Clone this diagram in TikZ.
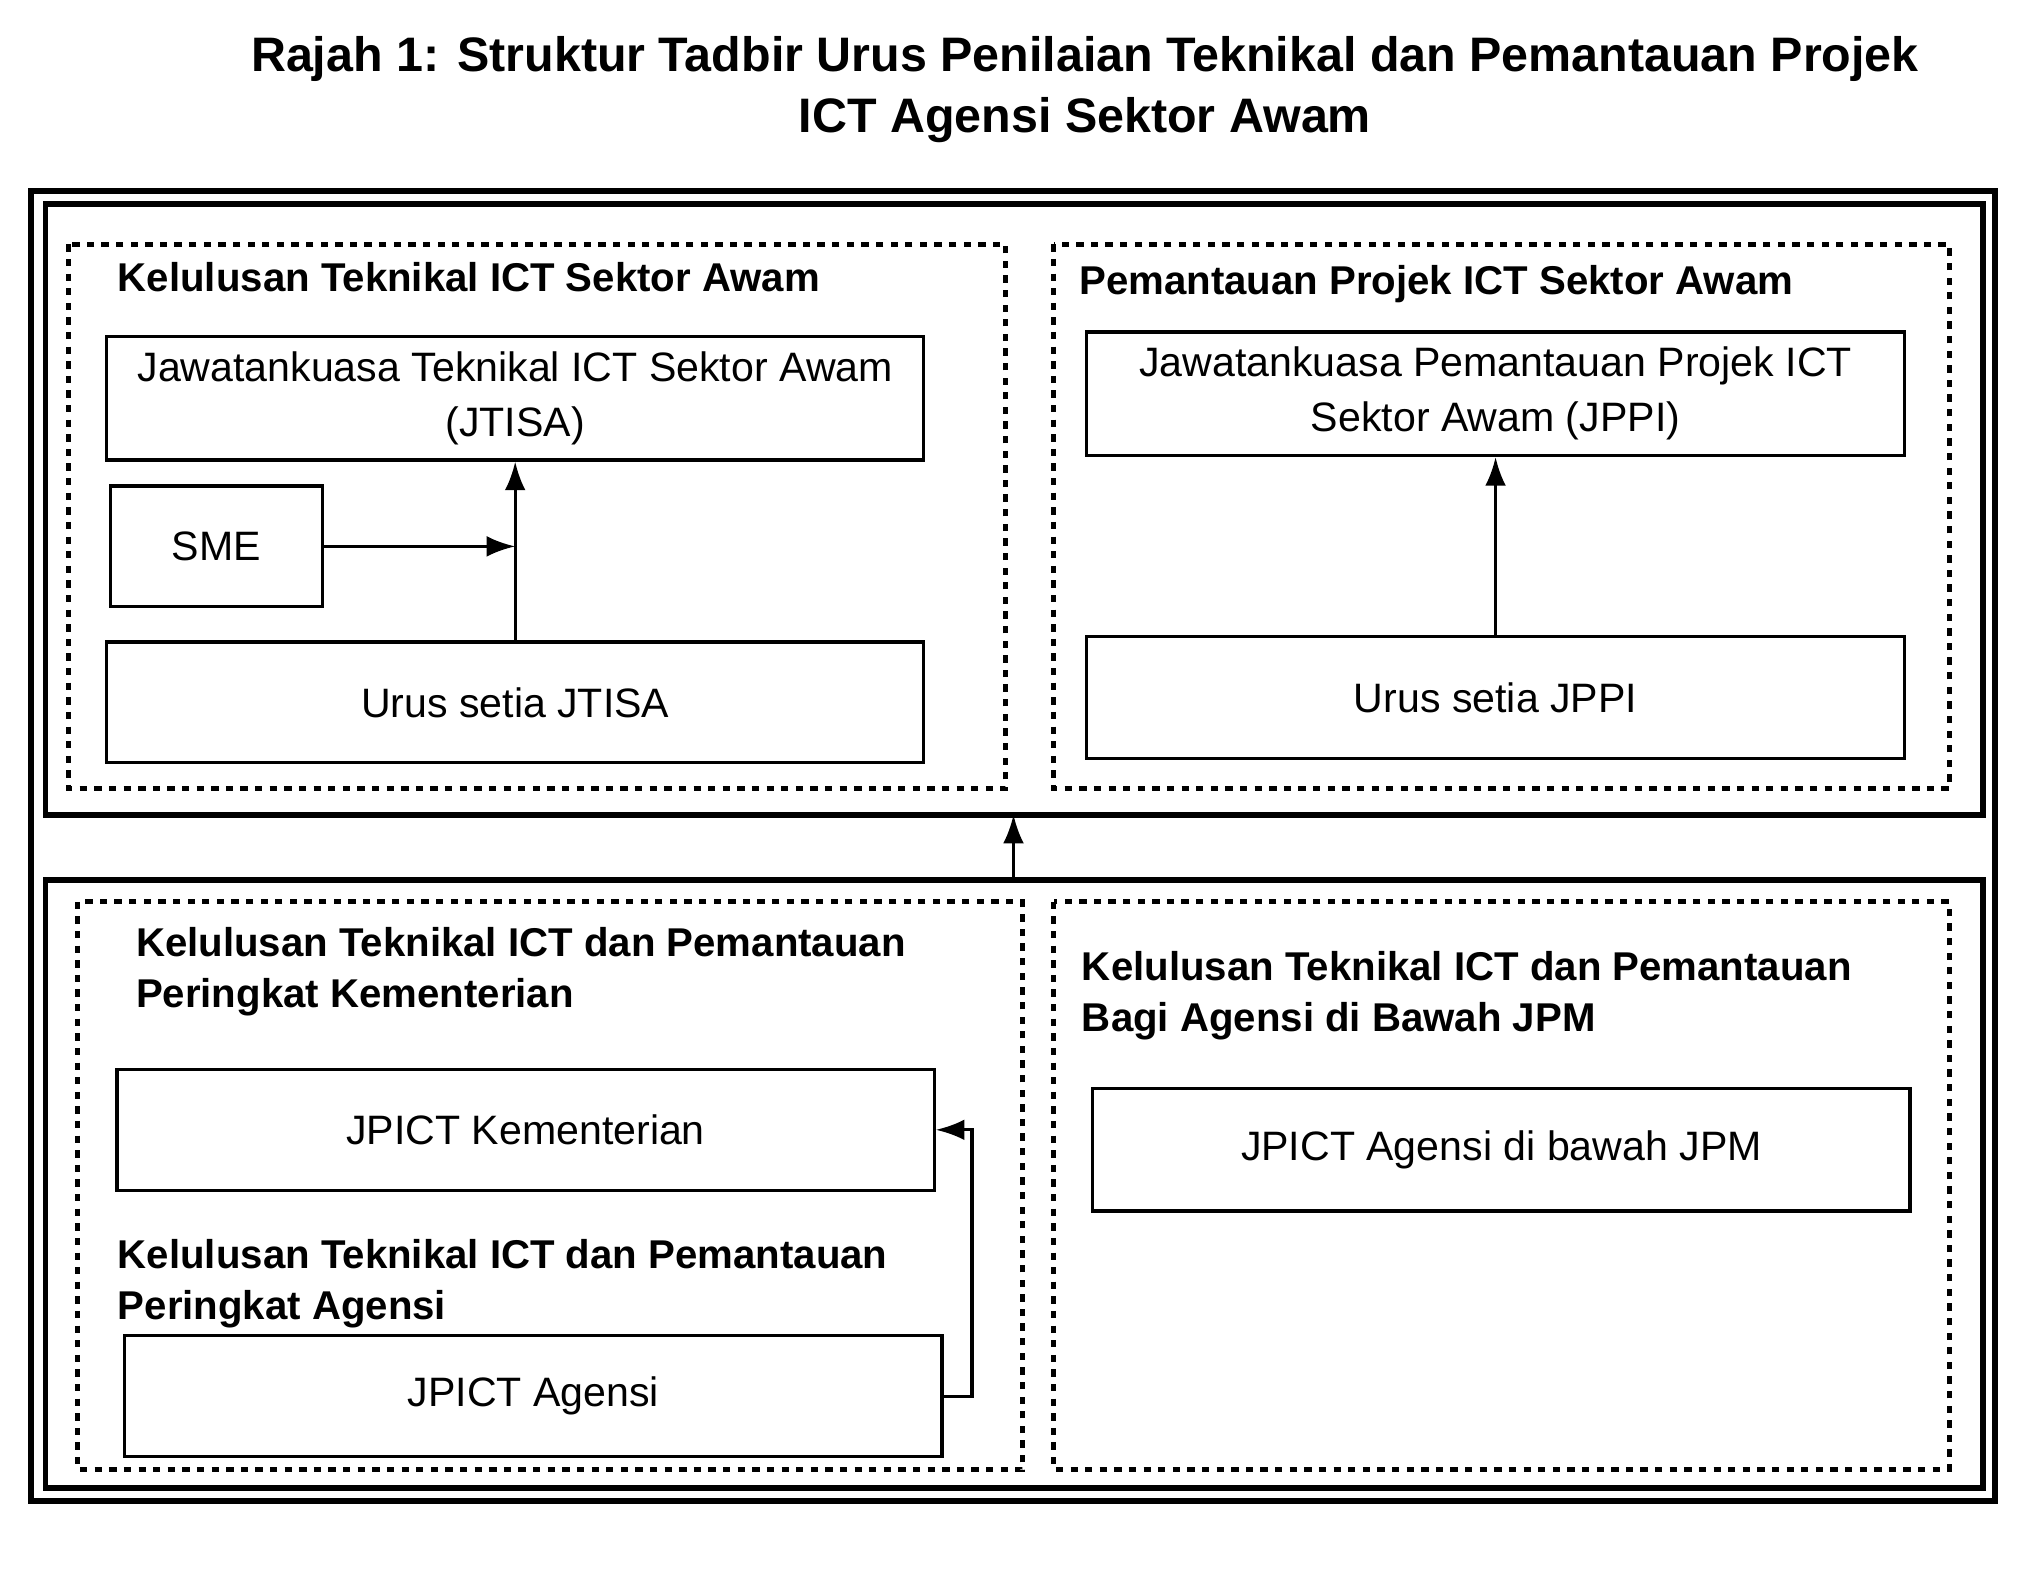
\documentclass[tikz,border=0pt]{standalone}
\usepackage{fontspec}
\setmainfont{Liberation Sans}
\usetikzlibrary{positioning,arrows.meta}
\tikzset{
  unitbox/.style={draw, line width=0.7pt, align=center, font=\fontsize{9}{12}\selectfont},
  frame/.style={draw, line width=1.3pt},
  dashframe/.style={draw, line width=1.1pt, dash pattern=on 1.6pt off 1.6pt},
  heading/.style={anchor=west, align=left, inner sep=0pt, font=\bfseries\fontsize{8.8}{11.2}\selectfont},
  link/.style={-{Latex[length=2.2mm,width=1.6mm]}, line width=0.7pt}
}
\begin{document}
\begin{tikzpicture}[x=0.1mm,y=-0.1mm]
\useasboundingbox (0,0) rectangle (1560,1222);

% title
\node[font=\bfseries\fontsize{10.6}{13.5}\selectfont, align=center] (title) at (835,69)
  {Rajah 1: Struktur Tadbir Urus Penilaian Teknikal dan Pemantauan Projek\\ICT Agensi Sektor Awam};

% frames
\draw[frame] (24,147) rectangle (1535,1155);
\draw[frame] (35,157) rectangle (1526,627);
\draw[frame] (35,677) rectangle (1526,1145);
\draw[dashframe] (53,188) rectangle (774,607);
\draw[dashframe] (811,188) rectangle (1500,607);
\draw[dashframe] (60,694) rectangle (787,1131);
\draw[dashframe] (811,694) rectangle (1500,1131);

% headings
\node[heading] (h1) at (90,213) {Kelulusan Teknikal ICT Sektor Awam};
\node[heading] (h2) at (830,219) {Pemantauan Projek ICT Sektor Awam};
\node[heading] (h3) at (104,748) {Kelulusan Teknikal ICT dan Pemantauan\\Peringkat Kementerian};
\node[heading] (h4) at (90,988) {Kelulusan Teknikal ICT dan Pemantauan\\Peringkat Agensi};
\node[heading] (h5) at (832,766) {Kelulusan Teknikal ICT dan Pemantauan\\Bagi Agensi di Bawah JPM};

% units
\node[unitbox, minimum width=62.9mm, minimum height=9.3mm] (jtisa) at (396.5,306.5) {Jawatankuasa Teknikal ICT Sektor Awam\\(JTISA)};
\node[unitbox, minimum width=16.3mm, minimum height=9.3mm] (sme) at (166.5,420.5) {SME};
\node[unitbox, minimum width=62.9mm, minimum height=9.3mm] (usjtisa) at (396.5,540.5) {Urus setia JTISA};
\node[unitbox, minimum width=63mm, minimum height=9.4mm] (jppi) at (1151,303) {Jawatankuasa Pemantauan Projek ICT\\Sektor Awam (JPPI)};
\node[unitbox, minimum width=63mm, minimum height=9.4mm] (usjppi) at (1151,537) {Urus setia JPPI};
\node[unitbox, minimum width=62.9mm, minimum height=9.3mm] (kem) at (404.5,869.5) {JPICT Kementerian};
\node[unitbox, minimum width=62.9mm, minimum height=9.3mm] (agensi) at (410.5,1074.5) {JPICT Agensi};
\node[unitbox, minimum width=62.9mm, minimum height=9.4mm] (jpm) at (1155.5,885) {JPICT Agensi di bawah JPM};

\coordinate (join) at (usjtisa.north |- sme.east);
\coordinate (bottop) at (780,677);
\coordinate (topbot) at (780,627);

% connectors
\draw[link] (usjtisa.north) -- (jtisa.south);
\draw[link] (sme.east) -- (join);
\draw[link] (usjppi.north) -- (jppi.south);
\draw[link] (bottop) -- (topbot);
\draw[link] (agensi.east) -| (748,869.5) -- (kem.east);
\end{tikzpicture}
\end{document}
